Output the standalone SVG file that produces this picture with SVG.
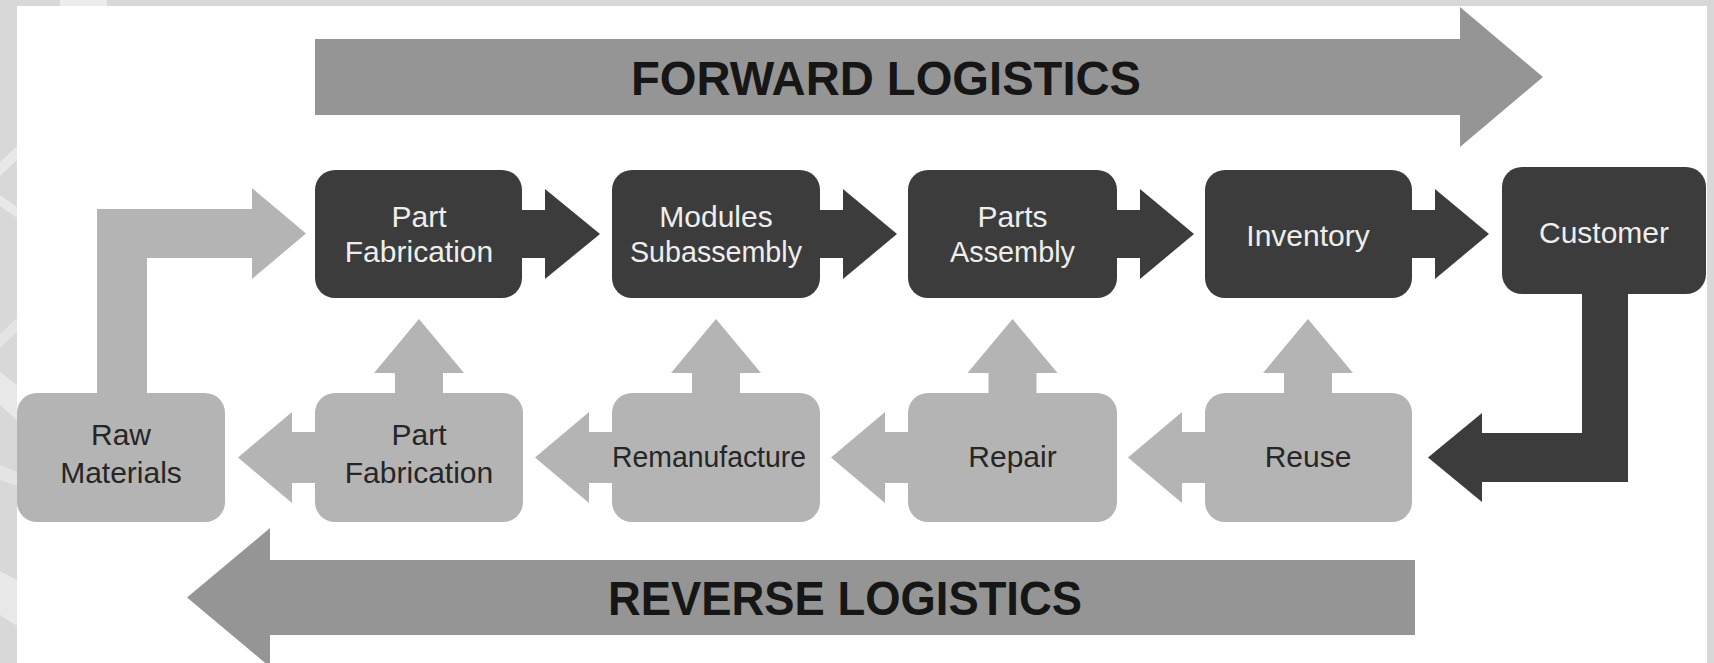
<svg xmlns="http://www.w3.org/2000/svg" width="1714" height="663" viewBox="0 0 1714 663">
<style>
.dark{fill:#3c3c3c}
.light{fill:#b4b4b4}
.band{fill:#959595}
.lbl{font-family:"Liberation Sans",Arial,sans-serif;font-size:30px;text-anchor:middle}
.lw{fill:#eeeeee}
.ld{fill:#262626}
.big{font-family:"Liberation Sans",Arial,sans-serif;font-weight:bold;font-size:48px;text-anchor:middle;fill:#161616}
</style>
<rect width="1714" height="663" fill="#ffffff"/>
<g id="frame">
<rect x="0" y="0" width="1714" height="6" fill="#d8d8d8"/>
<rect x="60" y="0" width="47" height="6" fill="#ececec"/>
<rect x="0" y="0" width="17" height="663" fill="#d8d8d8"/>
<polygon points="17,146 17,160 0,176 0,162" fill="#e8e8e8"/>
<polygon points="0,195 17,207 17,218 0,206" fill="#e8e8e8"/>
<polygon points="17,318 17,332 0,348 0,334" fill="#e4e4e4"/>
<polygon points="0,372 17,385 17,420 0,405" fill="#e8e8e8"/>
<polygon points="0,465 17,472 17,486 0,480" fill="#e4e4e4"/>
<polygon points="0,571 17,580 17,626 0,615" fill="#e8e8e8"/>
<rect x="1707" y="0" width="7" height="663" fill="#d8d8d8"/>
</g>
<g id="forward-logistics">
<polygon class="band" points="315,39 1460,39 1460,7 1543,77 1460,147 1460,115 315,115"/>
<text class="big" x="886" y="95" textLength="510" lengthAdjust="spacingAndGlyphs">FORWARD LOGISTICS</text>
</g>
<g id="reverse-logistics">
<polygon class="band" points="1415,560 270,560 270,528 187,597.5 270,667 270,635 1415,635"/>
<text class="big" x="845" y="615" textLength="474" lengthAdjust="spacingAndGlyphs">REVERSE LOGISTICS</text>
</g>
<g id="connectors">
<polygon class="light" points="97,393 97,209 252,209 252,188 306,233.5 252,279 252,258 147,258 147,393"/>
<polygon class="dark" points="520,210 545,210 545,189 600,234 545,279 545,258 520,258"/>
<polygon class="dark" points="818,210 843,210 843,189 897,234 843,279 843,258 818,258"/>
<polygon class="dark" points="1115,210 1140,210 1140,189 1194,234 1140,279 1140,258 1115,258"/>
<polygon class="dark" points="1410,210 1435,210 1435,189 1489,234 1435,279 1435,258 1410,258"/>
<polygon class="dark" points="1582,290 1628,290 1628,482 1482,482 1482,502 1428,457.5 1482,413 1482,433 1582,433"/>
<polygon class="light" points="317,432 292,432 292,412 238,457.5 292,503 292,483 317,483"/>
<polygon class="light" points="614,432 589,432 589,412 535,457.5 589,503 589,483 614,483"/>
<polygon class="light" points="910,432 885,432 885,412 831,457.5 885,503 885,483 910,483"/>
<polygon class="light" points="1207,432 1182,432 1182,412 1128,457.5 1182,503 1182,483 1207,483"/>
<polygon class="light" points="395,395 395,373 374,373 419,319 464,373 443,373 443,395"/>
<polygon class="light" points="692,395 692,373 671,373 716,319 761,373 740,373 740,395"/>
<polygon class="light" points="988.5,395 988.5,373 967.5,373 1012.5,319 1057.5,373 1036.5,373 1036.5,395"/>
<polygon class="light" points="1284,395 1284,373 1263,373 1308,319 1353,373 1332,373 1332,395"/>
</g>
<g id="part-fabrication">
<rect class="dark" x="315" y="170" width="207" height="128" rx="20"/>
<text class="lbl lw" x="419" y="227">Part</text>
<text class="lbl lw" x="419" y="262">Fabrication</text>
</g>
<g id="modules-subassembly">
<rect class="dark" x="612" y="170" width="208" height="128" rx="20"/>
<text class="lbl lw" x="716" y="227">Modules</text>
<text class="lbl lw" x="716" y="262" textLength="172" lengthAdjust="spacingAndGlyphs">Subassembly</text>
</g>
<g id="parts-assembly">
<rect class="dark" x="908" y="170" width="209" height="128" rx="20"/>
<text class="lbl lw" x="1012.5" y="227">Parts</text>
<text class="lbl lw" x="1012.5" y="262" textLength="125" lengthAdjust="spacingAndGlyphs">Assembly</text>
</g>
<g id="inventory">
<rect class="dark" x="1205" y="170" width="207" height="128" rx="20"/>
<text class="lbl lw" x="1308" y="246">Inventory</text>
</g>
<g id="customer">
<rect class="dark" x="1502" y="167" width="204" height="127" rx="20"/>
<text class="lbl lw" x="1604" y="243">Customer</text>
</g>
<g id="raw-materials">
<rect class="light" x="17" y="393" width="208" height="129" rx="20"/>
<text class="lbl ld" x="121" y="445">Raw</text>
<text class="lbl ld" x="121" y="483">Materials</text>
</g>
<g id="part-fabrication-reverse">
<rect class="light" x="315" y="393" width="208" height="129" rx="20"/>
<text class="lbl ld" x="419" y="445">Part</text>
<text class="lbl ld" x="419" y="483">Fabrication</text>
</g>
<g id="remanufacture">
<rect class="light" x="612" y="393" width="208" height="129" rx="20"/>
<text class="lbl ld" x="709" y="467" textLength="194" lengthAdjust="spacingAndGlyphs">Remanufacture</text>
</g>
<g id="repair">
<rect class="light" x="908" y="393" width="209" height="129" rx="20"/>
<text class="lbl ld" x="1012.5" y="467">Repair</text>
</g>
<g id="reuse">
<rect class="light" x="1205" y="393" width="207" height="129" rx="20"/>
<text class="lbl ld" x="1308" y="467">Reuse</text>
</g>
</svg>
